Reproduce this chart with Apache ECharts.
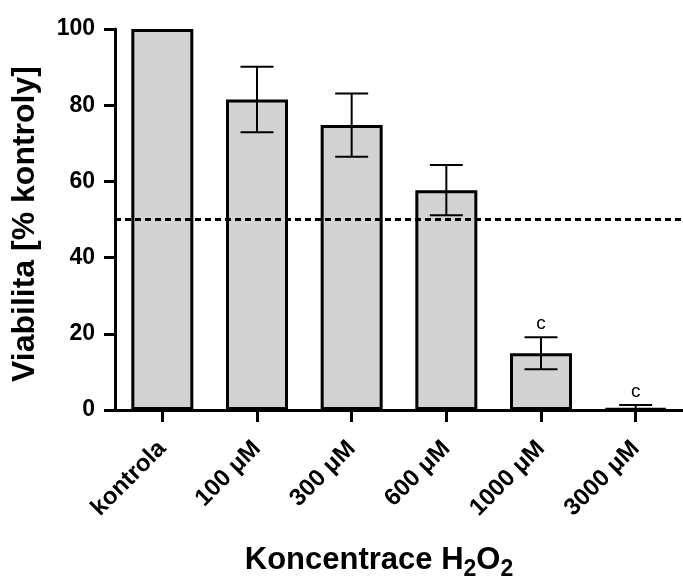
<!DOCTYPE html>
<html>
<head>
<meta charset="utf-8">
<script src="https://cdn.jsdelivr.net/npm/echarts@6/dist/echarts.min.js"></script>
<style>
  html, body { margin: 0; padding: 0; background: #ffffff; }
  #chart { width: 683px; height: 578px; }
</style>
</head>
<body>
<div id="chart"></div>
<script>
// Cell viability after H2O2 exposure (mean ± SD, % of control)
const categories = ['kontrola', '100 μM', '300 μM', '600 μM', '1000 μM', '3000 μM'];
const viability = [100, 81.5, 74.8, 57.7, 14.9, 0.4];
const sd = [0, 8.6, 8.3, 6.6, 4.2, 0.9];
const significance = ['', '', '', '', 'c', 'c'];
const yTicks = [0, 20, 40, 60, 80, 100];
const threshold = 50;

const FONT = '"Liberation Sans", Arial, Helvetica, sans-serif';

const chart = echarts.init(document.getElementById('chart'), null, { renderer: 'canvas' });

const errorData = categories.map((c, i) => [i, viability[i], sd[i]]);

chart.setOption({
  animation: false,
  backgroundColor: '#ffffff',
  grid: { left: 115, right: -5, top: 29, bottom: 168, containLabel: false },
  xAxis: {
    type: 'category',
    data: categories,
    boundaryGap: true,
    axisLine: { show: true, lineStyle: { color: '#000', width: 3 } },
    axisTick: { show: true, alignWithLabel: true, length: 12, lineStyle: { color: '#000', width: 3 } },
    axisLabel: {
      interval: 0, rotate: 45, margin: 35,
      color: '#000', fontFamily: FONT, fontWeight: 'bold', fontSize: 24
    },
    splitLine: { show: false }
  },
  yAxis: {
    type: 'value',
    min: yTicks[0],
    max: yTicks[yTicks.length - 1],
    interval: yTicks[1] - yTicks[0],
    axisLine: { show: true, lineStyle: { color: '#000', width: 3 } },
    axisTick: { show: true, length: 11, lineStyle: { color: '#000', width: 3 } },
    axisLabel: { margin: 20, color: '#000', fontFamily: FONT, fontWeight: 'bold', fontSize: 23 },
    splitLine: { show: false }
  },
  graphic: [
    {
      // y-axis title
      type: 'text',
      x: 25,
      y: 224,
      rotation: Math.PI / 2,
      style: {
        text: 'Viabilita [% kontroly]',
        align: 'center',
        verticalAlign: 'middle',
        font: 'bold 32px ' + FONT,
        fill: '#000'
      }
    },
    {
      // x-axis title with subscripts
      type: 'text',
      x: 379,
      y: 563,
      style: {
        text: '{m|Koncentrace H}{s|2}{m|O}{s|2}',
        align: 'center',
        verticalAlign: 'middle',
        rich: {
          m: { fontFamily: FONT, fontWeight: 'bold', fontSize: 31, fill: '#000', verticalAlign: 'bottom', padding: [0, 0, 5, 0] },
          s: { fontFamily: FONT, fontWeight: 'bold', fontSize: 23, fill: '#000', verticalAlign: 'bottom' }
        }
      }
    }
  ],
  series: [
    {
      // 50 % reference line, kept behind the bars
      type: 'line',
      data: [],
      z: 1,
      silent: true,
      markLine: {
        symbol: 'none',
        silent: true,
        label: { show: false },
        lineStyle: { color: '#000', width: 3, type: [6, 4] },
        data: [{ yAxis: threshold }]
      }
    },
    {
      type: 'bar',
      data: viability,
      barWidth: 62,
      z: 3,
      itemStyle: { color: '#d3d3d3', borderColor: '#000', borderWidth: 3 }
    },
    {
      type: 'custom',
      data: errorData,
      z: 5,
      renderItem: function (params, api) {
        const i = api.value(0);
        const mean = api.value(1);
        const dev = api.value(2);
        const x = api.coord([i, 0])[0];
        const yTop = api.coord([i, mean + dev])[1];
        const yBot = api.coord([i, Math.max(0, mean - dev)])[1];
        const half = 16.5;
        const lineStyle = { stroke: '#000', lineWidth: 2 };
        const children = [];
        if (dev > 0) {
          children.push(
            { type: 'line', shape: { x1: x, y1: yTop, x2: x, y2: yBot }, style: lineStyle },
            { type: 'line', shape: { x1: x - half, y1: yTop, x2: x + half, y2: yTop }, style: lineStyle },
            { type: 'line', shape: { x1: x - half, y1: yBot, x2: x + half, y2: yBot }, style: lineStyle }
          );
        }
        const mark = significance[i];
        if (mark) {
          children.push({
            type: 'text',
            style: {
              text: mark, x: x, y: yTop - 4,
              align: 'center', verticalAlign: 'bottom',
              font: '19px ' + FONT, fill: '#000'
            }
          });
        }
        return { type: 'group', children: children };
      }
    }
  ]
});
</script>
</body>
</html>
